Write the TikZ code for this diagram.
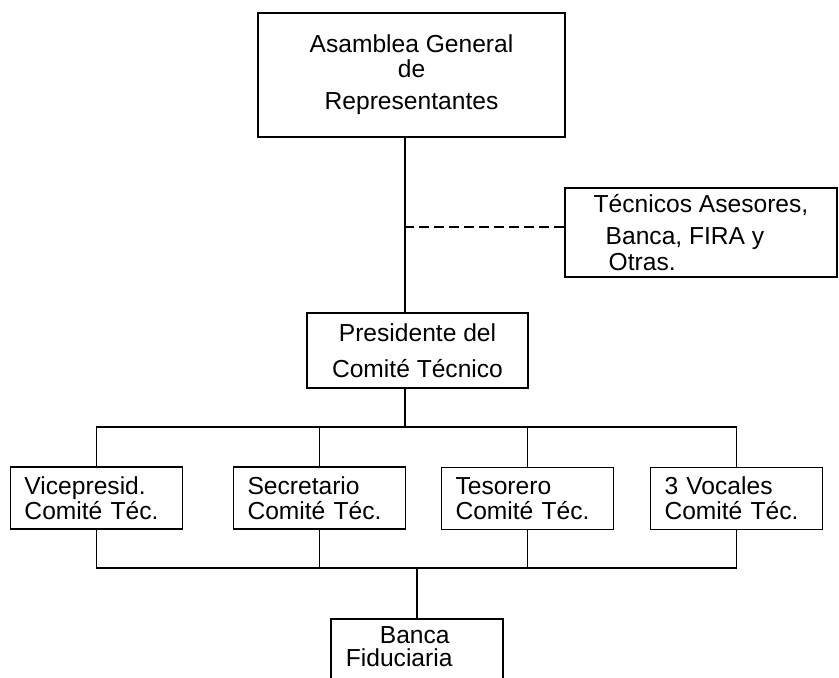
\documentclass[tikz,border=0pt]{standalone}
\usepackage{fontspec}
\setmainfont{Liberation Sans}
\usepackage{tikz}

\begin{document}
\begin{tikzpicture}[x=0.5pt,y=-0.5pt,line width=0.85pt]
\tikzstyle{every node}+=[font=\fontsize{12.3}{13}\selectfont]
\tikzstyle{caja}=[draw=black,align=center,inner sep=0pt]
\tikzstyle{puesto}=[draw=black,align=left,text width=72pt,inner xsep=7pt,inner ysep=0pt,minimum height=31pt]
\useasboundingbox (0,0) rectangle (839,677);
\node[caja,minimum width=153.5pt,minimum height=62pt] (asamblea) at (411.5,75) {Asamblea General\\[-0.5pt]de\\[3pt]Representantes};
\node[caja,align=left,minimum width=136pt,minimum height=44.5pt] (tecnicos) at (701,232.5) {T\'ecnicos Asesores,\\[3pt]\hspace*{6pt}Banca, FIRA y\\[0pt]\hspace*{7.5pt}Otras.};
\node[caja,minimum width=110.5pt,minimum height=37.5pt] (presidente) at (417.5,350.5) {Presidente del\\[5pt]Comit\'e T\'ecnico};
\node[puesto] (vice) at (96.5,498) {Vicepresid.\\[-0.5pt]Comit\'e T\'ec.};
\node[puesto] (secre) at (319.5,498) {Secretario\\[-0.5pt]Comit\'e T\'ec.};
\node[puesto] (teso) at (527.5,498.5) {Tesorero\\[-0.5pt]Comit\'e T\'ec.};
\node[puesto] (vocales) at (736.5,498.5) {3 Vocales\\[-0.5pt]Comit\'e T\'ec.};
\node[caja,minimum width=86pt,minimum height=45pt,anchor=north] (banca) at (417,618) {};
\node[align=left,inner sep=0pt,anchor=west] (bancatxt) at (345,646.5) {\hspace*{17pt}Banca\\[-1.5pt]Fiduciaria};
% lineas
\coordinate (eje) at (405,0);
\coordinate (bus1) at (405,427);
\coordinate (bus2) at (417,568);
\draw (asamblea.south -| eje) -- (presidente.north -| eje);
\draw[dash pattern=on 5pt off 2.5pt] ([yshift=2.75pt]tecnicos.west) -- ([yshift=2.75pt]tecnicos.west -| eje);
\draw (presidente.south -| bus1) -- (bus1);
\draw (vice.north) |- (bus1) -| (vocales.north);
\draw (secre.north) -- (secre.north |- bus1);
\draw (teso.north) -- (teso.north |- bus1);
\draw (vice.south) |- (bus2) -| (vocales.south);
\draw (secre.south) -- (secre.south |- bus2);
\draw (teso.south) -- (teso.south |- bus2);
\draw (bus2) -- (banca.north -| bus2);
\end{tikzpicture}
\end{document}
